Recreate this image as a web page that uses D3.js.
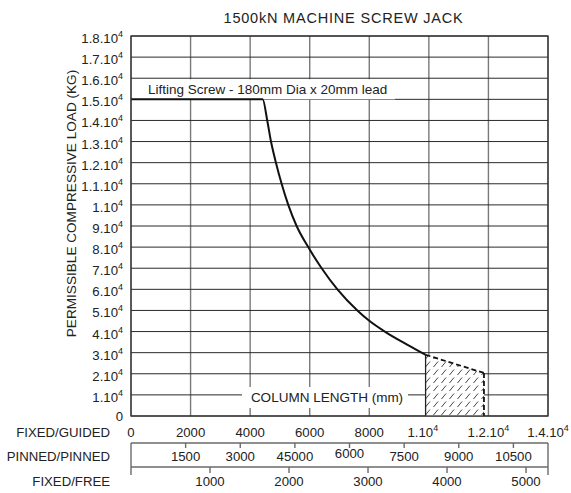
<!DOCTYPE html>
<html><head><meta charset="utf-8">
<script src="https://cdn.jsdelivr.net/npm/d3@7"></script>
<style>body{margin:0;background:#fff}svg{display:block}text{font-family:"Liberation Sans",Arial,sans-serif;fill:#222}</style>
</head><body>
<svg id="c" width="571" height="493"></svg>
<script>
// ---- data ----
const title = "1500kN MACHINE SCREW JACK";
const yTitle = "PERMISSIBLE COMPRESSIVE LOAD (KG)";
const curveLabel = "Lifting Screw - 180mm Dia x 20mm lead";
const xTitle = "COLUMN LENGTH (mm)";
const yTickValues = [0,10000,20000,30000,40000,50000,60000,70000,80000,90000,100000,110000,120000,130000,140000,150000,160000,170000,180000];
const yTickBase = ["0","1.10","2.10","3.10","4.10","5.10","6.10","7.10","8.10","9.10","1.10","1.1.10","1.2.10","1.3.10","1.4.10","1.5.10","1.6.10","1.7.10","1.8.10"];
const yTickExp  = ["","4","4","4","4","4","4","4","4","4","4","4","4","4","4","4","4","4","4"];
const guidedTicks = [0,2000,4000,6000,8000,10000,12000,14000];
const guidedBase = ["0","2000","4000","6000","8000","1.10","1.2.10","1.4.10"];
const guidedExp  = ["","","","","","4","4","4"];
const pinnedTicks = [1500,3000,4500,6000,7500,9000,10500];
const pinnedLabels = ["1500","3000","45000","6000","7500","9000","10500"];
const pinnedMax = 11450;
const freeTicks = [1000,2000,3000,4000,5000];
const freeLabels = ["1000","2000","3000","4000","5000"];
const freeMax = 5278;
const axisNames = ["FIXED/GUIDED","PINNED/PINNED","FIXED/FREE"];
// curve: column length (fixed/guided, mm) vs permissible load (kg)
const loadLen = [0,4420,4574,4700,4866,5057,5280,5560,5950,6400,6930,7600,8000,8520,9300,9890];
const loadVal = [150000,150000,140000,130000,120000,110000,100000,90000,80000,70000,60000,50000,45100,40000,33600,29000];
const extLen = [9890,11850];
const extVal = [29000,20400];

// ---- layout ----
const L=131,R=548,T=36,B=416;
const FS=13.2;
const guidedShift=[0,0,0,0,0,-6,0,0];
const svg=d3.select("#c");
const x=d3.scaleLinear().domain([0,14000]).range([L,R]);
const y=d3.scaleLinear().domain([0,180000]).range([B,T]);
const xp=d3.scaleLinear().domain([0,pinnedMax]).range([L,R]);
const xf=d3.scaleLinear().domain([0,freeMax]).range([L,R]);

// hatch pattern
const defs=svg.append("defs");
const pat=defs.append("pattern").attr("id","hatch").attr("patternUnits","userSpaceOnUse")
  .attr("width",8).attr("height",8);
pat.append("path").attr("d","M1.5,7 L6,1.5").attr("stroke","#333").attr("stroke-width",0.9);

// title
svg.append("text").attr("x",343.5).attr("y",23).attr("text-anchor","middle").attr("font-size",14.5)
  .attr("letter-spacing",0.8).text(title);

// grid
const g=svg.append("g");
g.selectAll("line.v").data(guidedTicks).join("line")
  .attr("x1",d=>x(d)).attr("x2",d=>x(d)).attr("y1",T).attr("y2",B)
  .attr("stroke","#7a7a7a").attr("stroke-width",1.4);
g.selectAll("line.h").data(yTickValues).join("line")
  .attr("x1",L).attr("x2",R).attr("y1",d=>y(d)).attr("y2",d=>y(d))
  .attr("stroke","#2a2a2a").attr("stroke-width",1);

// white label boxes
svg.append("rect").attr("x",L+1).attr("y",y(160000)+1).attr("width",x(8860)-L-1).attr("height",y(150000)-y(160000)-1).attr("fill","#fff");
svg.append("text").attr("x",148).attr("y",94).attr("font-size",13.5).text(curveLabel);
svg.append("rect").attr("x",242).attr("y",387).attr("width",166).attr("height",21).attr("fill","#fff");
svg.append("text").attr("x",327).attr("y",402).attr("text-anchor","middle").attr("font-size",13.5).text(xTitle);

// hatched region
const area=d3.area().x((d,i)=>x(extLen[i])).y0(y(0)).y1((d,i)=>y(extVal[i]));
svg.append("path").datum(extLen).attr("d",area).attr("fill","#fff");
svg.append("path").datum(extLen).attr("d",area).attr("fill","url(#hatch)");
svg.append("line").attr("x1",x(extLen[0])).attr("x2",x(extLen[0])).attr("y1",y(0)).attr("y2",y(extVal[0])).attr("stroke","#222").attr("stroke-width",1.3);
// dashed extension
svg.append("path").datum(extLen).attr("d",d3.line().x((d,i)=>x(extLen[i])).y((d,i)=>y(extVal[i])))
  .attr("fill","none").attr("stroke","#111").attr("stroke-width",1.8).attr("stroke-dasharray","5,3");
svg.append("line").attr("x1",x(extLen[1])).attr("x2",x(extLen[1])).attr("y1",y(extVal[1])).attr("y2",y(0))
  .attr("stroke","#111").attr("stroke-width",1.8).attr("stroke-dasharray","5,3");

// main curve
svg.append("path").datum(loadLen).attr("d",d3.line().x((d,i)=>x(loadLen[i])).y((d,i)=>y(loadVal[i])).curve(d3.curveMonotoneX))
  .attr("fill","none").attr("stroke","#111").attr("stroke-width",2);

// frame
svg.append("rect").attr("x",L).attr("y",T).attr("width",R-L).attr("height",B-T).attr("fill","none").attr("stroke","#333").attr("stroke-width",1.3);

// y tick labels
const yl=svg.selectAll("text.yl").data(yTickValues).join("text").attr("class","yl")
  .attr("x",123).attr("y",d=>y(d)+(d===0?5:7)).attr("text-anchor","end").attr("font-size",FS);
yl.append("tspan").text((d,i)=>yTickBase[i]);
yl.filter((d,i)=>yTickExp[i]).append("tspan").attr("dy",-6).attr("font-size",9).text(d=>yTickExp[yTickValues.indexOf(d)]);

// y title
svg.append("text").attr("transform","translate(76,203.5) rotate(-90)").attr("text-anchor","middle").attr("font-size",13.6).text(yTitle);

// fixed/guided labels
const gl=svg.selectAll("text.gl").data(guidedTicks).join("text").attr("class","gl")
  .attr("x",(d,i)=>x(d)+guidedShift[i]).attr("y",437).attr("text-anchor","middle").attr("font-size",FS);
gl.append("tspan").text((d,i)=>guidedBase[i]);
gl.filter((d,i)=>guidedExp[i]).append("tspan").attr("dy",-6).attr("font-size",9).text("4");

// lower axis box
const ax=svg.append("g").attr("stroke","#6a6a6a").attr("stroke-width",1.4);
ax.append("line").attr("x1",L).attr("x2",R).attr("y1",443).attr("y2",443);
ax.append("line").attr("x1",L).attr("x2",R).attr("y1",467).attr("y2",467);
ax.append("line").attr("x1",L).attr("x2",L).attr("y1",443).attr("y2",475);
ax.append("line").attr("x1",R).attr("x2",R).attr("y1",443).attr("y2",475);
ax.selectAll("line.pt").data(pinnedTicks).join("line").attr("class","pt")
  .attr("x1",d=>xp(d)).attr("x2",d=>xp(d)).attr("y1",443).attr("y2",448);
ax.selectAll("line.ft").data(freeTicks).join("line").attr("class","ft")
  .attr("x1",d=>xf(d)).attr("x2",d=>xf(d)).attr("y1",467).attr("y2",473);

svg.selectAll("text.pl").data(pinnedTicks).join("text").attr("class","pl")
  .attr("x",d=>xp(d)).attr("y",(d,i)=>pinnedLabels[i]==="6000"?458:461).attr("text-anchor","middle").attr("font-size",FS)
  .text((d,i)=>pinnedLabels[i]);
svg.selectAll("text.fl").data(freeTicks).join("text").attr("class","fl")
  .attr("x",d=>xf(d)).attr("y",486).attr("text-anchor","middle").attr("font-size",FS)
  .text((d,i)=>freeLabels[i]);

// axis names
svg.selectAll("text.an").data(axisNames).join("text").attr("class","an")
  .attr("x",110).attr("y",(d,i)=>[437,461,486][i]).attr("text-anchor","end").attr("font-size",FS).text(d=>d);
</script>
</body></html>
